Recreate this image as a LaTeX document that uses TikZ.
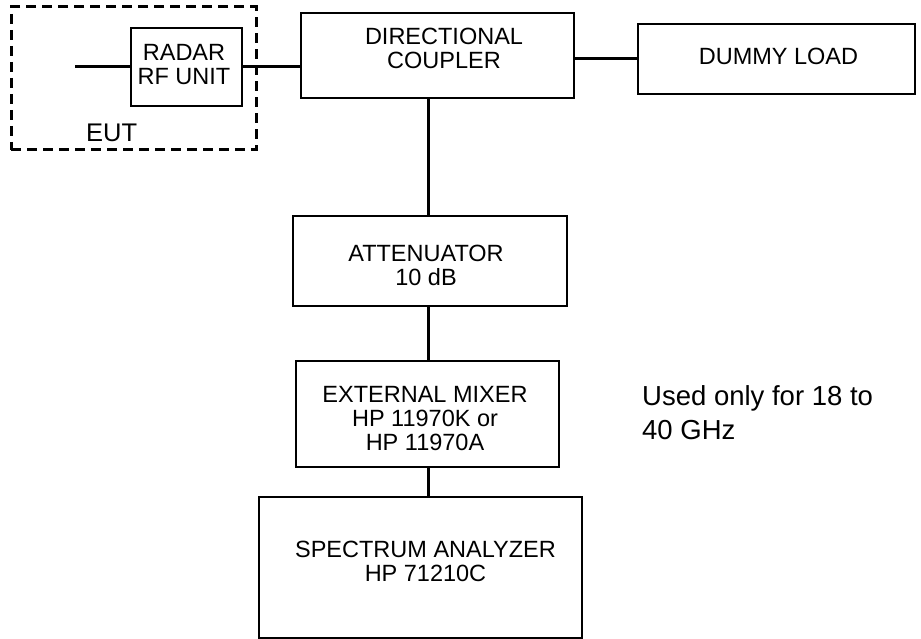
\documentclass[tikz,border=0pt]{standalone}
\usepackage{fontspec}
\setmainfont{Liberation Sans}
\begin{document}
\begin{tikzpicture}[x=1pt,y=-1pt,
  box/.style={draw=black,line width=2.4pt,inner sep=0pt,outer sep=0pt,fill=none},
  txt/.style={inner sep=0pt,align=center,font=\fontsize{23.5}{24}\selectfont},
  wire/.style={draw=black,line width=3pt},
  eutframe/.style={draw=black,line width=3pt,dash pattern=on 10pt off 6pt}]
\useasboundingbox (0,0) rectangle (921,639);

% equipment under test: dashed frame around the radar unit
\node[eutframe,minimum width=245pt,minimum height=143pt,inner sep=0pt] (eut) at (133.5,78.5) {};
\node[inner sep=0pt,anchor=base west,font=\fontsize{25.5}{26}\selectfont] (euttxt) at (86,142) {EUT};

% boxes
\node[box,minimum width=111pt,minimum height=78pt] (radar) at (186.5,67) {};
\node[txt] (radartxt) at (184,64.5) {RADAR\\RF UNIT};

\node[box,minimum width=273pt,minimum height=85pt] (coupler) at (437.5,55.5) {};
\node[txt] (couplertxt) at (444,48.5) {DIRECTIONAL\\COUPLER};

\node[box,minimum width=277pt,minimum height=70pt] (load) at (776.5,59) {};
\node[txt] (loadtxt) at (778.5,56.5) {DUMMY LOAD};

\node[box,minimum width=274pt,minimum height=90pt] (atten) at (430,261) {};
\node[txt] (attentxt) at (426,265) {ATTENUATOR\\10 dB};

\node[box,minimum width=263pt,minimum height=106pt] (mixer) at (427.5,414) {};
\node[txt] (mixertxt) at (425,418.5) {EXTERNAL MIXER\\HP 11970K or\\HP 11970A};

\node[box,minimum width=323pt,minimum height=141pt] (analyzer) at (420.5,567.5) {};
\node[txt] (analyzertxt) at (425.5,561) {SPECTRUM ANALYZER\\HP 71210C};

% note beside the mixer
\node[inner sep=0pt,anchor=north west,align=left,font=\fontsize{27.5}{34}\selectfont] (note) at (642,385) {Used only for 18 to\\40 GHz};

% connections
\coordinate (feed) at (75,67);
\draw[wire] (feed) -- (radar.west);
\draw[wire] (radar.east) -- (radar.east -| coupler.west);
\draw[wire] (coupler.east |- load.west) -- (load.west);
\coordinate (tap) at (428,0);
\draw[wire] (tap |- coupler.south) -- (tap |- atten.north);
\draw[wire] (tap |- atten.south) -- (tap |- mixer.north);
\draw[wire] (tap |- mixer.south) -- (tap |- analyzer.north);
\end{tikzpicture}
\end{document}
